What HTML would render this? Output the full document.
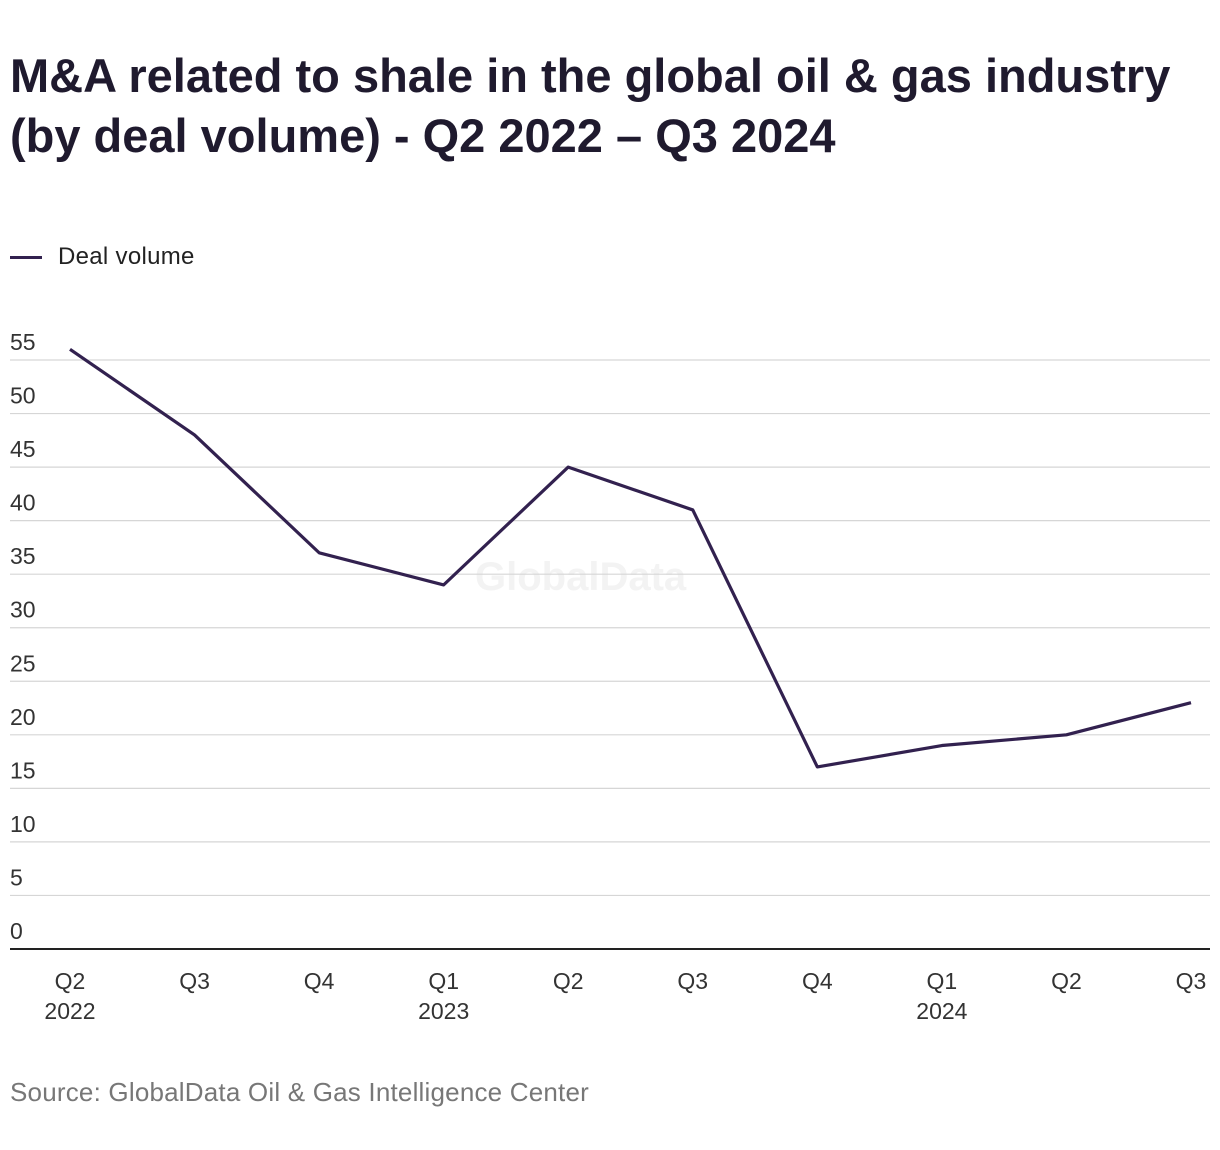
<!DOCTYPE html>
<html><head><meta charset="utf-8">
<style>
body{margin:0;background:#fff;width:1220px;height:1150px;overflow:hidden;font-family:"Liberation Sans",sans-serif;}
#title{position:absolute;left:10px;top:46px;font-size:47px;font-weight:bold;color:#1f1a2e;line-height:60px;letter-spacing:0px;margin:0;white-space:nowrap;}
#legend{position:absolute;left:10px;top:243px;font-size:24px;color:#222;display:flex;align-items:center;letter-spacing:0.3px;}
#legend span.sw{display:inline-block;width:32px;height:3px;background:#32214f;margin-right:16px;}
#source{position:absolute;left:10px;top:1077px;font-size:26px;color:#777;letter-spacing:0.2px;}
#wm{position:absolute;left:475px;top:555px;font-size:40px;font-weight:bold;color:#f3f3f3;}
svg{position:absolute;left:0;top:0;}
</style></head><body>
<div id="wm">GlobalData</div>
<h1 id="title">M&amp;A related to shale in the global oil &amp; gas industry<br>(by deal volume) - Q2 2022 – Q3 2024</h1>
<div id="legend"><span class="sw"></span>Deal volume</div>
<svg id="chart" width="1220" height="1150"></svg>
<div id="source">Source: GlobalData Oil &amp; Gas Intelligence Center</div>
<script>
const quarters=["Q2","Q3","Q4","Q1","Q2","Q3","Q4","Q1","Q2","Q3"];
const years=["2022","","","2023","","","","2024","",""];
const values=[56,48,37,34,45,41,17,19,20,23];
const yTicks=[0,5,10,15,20,25,30,35,40,45,50,55];
const NS="http://www.w3.org/2000/svg";
const svg=document.getElementById('chart');
const y0=949, pxPer=(949-360)/55;
function yScale(v){return y0-v*pxPer;}
function xScale(i){return 70+i*(1191-70)/(values.length-1);}
function mk(t,a){const e=document.createElementNS(NS,t);for(const k in a)e.setAttribute(k,a[k]);svg.appendChild(e);return e;}
yTicks.forEach(v=>{
  const y=yScale(v);
  if(v>0){const l=mk('line',{x1:10,x2:1210,y1:y,y2:y,stroke:'#d6d6d6','stroke-width':1.2});
  
  }
  const t=mk('text',{x:10,y:y-10,'font-size':23,fill:'#333','font-family':'Liberation Sans, sans-serif'});
  t.textContent=v;
  
  
});
const ax=mk('line',{x1:10,x2:1210,y1:y0,y2:y0,stroke:'#222','stroke-width':2});


quarters.forEach((q,i)=>{
  const x=xScale(i);
  const t=mk('text',{x:x,y:989,'font-size':23,fill:'#333','text-anchor':'middle','font-family':'Liberation Sans, sans-serif'});
  t.textContent=q;
  
  
  if(years[i]){const t2=mk('text',{x:x,y:1019,'font-size':23,fill:'#333','text-anchor':'middle','font-family':'Liberation Sans, sans-serif'});
  t2.textContent=years[i];
  
  }
});
const pts=values.map((v,i)=>xScale(i)+','+yScale(v)).join(' ');
const pl=mk('polyline',{points:pts,fill:'none',stroke:'#32214f','stroke-width':3.2,'stroke-linejoin':'round'});


</script>
</body></html>
